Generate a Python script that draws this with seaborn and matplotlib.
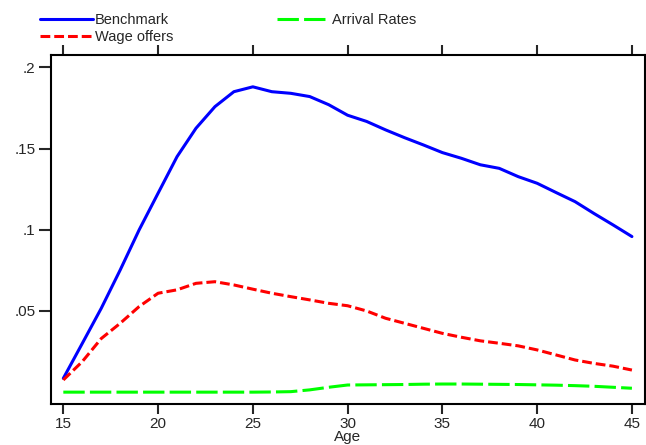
import numpy as np
import pandas as pd
import seaborn as sns
import matplotlib.pyplot as plt

age = list(range(15, 46))
benchmark = [0.0085, 0.030, 0.0516, 0.0752, 0.0999, 0.1225, 0.145, 0.1625, 0.1758, 0.185,
             0.188, 0.185, 0.184, 0.182, 0.177, 0.1705, 0.1667, 0.1615, 0.1567, 0.1522,
             0.1475, 0.144, 0.140, 0.1378, 0.1327, 0.1286, 0.1229, 0.1173, 0.110, 0.103, 0.0958]
wage_offers = [0.0075, 0.0188, 0.033, 0.0424, 0.0527, 0.0609, 0.063, 0.067, 0.068, 0.066,
               0.0634, 0.0609, 0.0588, 0.0568, 0.0547, 0.0532, 0.0500, 0.0455, 0.0424, 0.0393,
               0.0362, 0.0338, 0.0316, 0.0301, 0.0285, 0.026, 0.0229, 0.0198, 0.0177, 0.016, 0.0136]
arrival_rates = [0.0, 0.0, 0.0, 0.0, 0.0, 0.0, 0.0, 0.0, 0.0, 0.0,
                 0.0, 0.0001, 0.0003, 0.0014, 0.003, 0.0044, 0.0045, 0.0046, 0.0047, 0.0049,
                 0.005, 0.005, 0.0049, 0.0048, 0.0047, 0.0045, 0.0043, 0.0040, 0.0036, 0.003, 0.0024]

sns.set_style("ticks")
plt.rcParams['font.family'] = ['Liberation Sans', 'DejaVu Sans']

df = pd.DataFrame({'age': age, 'Benchmark': benchmark,
                   'Wage offers': wage_offers, 'Arrival Rates': arrival_rates})

fig = plt.figure(figsize=(6.46, 4.45), dpi=100)
ax = fig.add_axes([51 / 646, 1 - 404 / 445, 594 / 646, 349.5 / 445])

sns.lineplot(data=df, x='age', y='Benchmark', color='#0000ff', lw=2.2, ax=ax, label='Benchmark')
sns.lineplot(data=df, x='age', y='Wage offers', color='#ff0000', lw=2.2, ax=ax,
             label='Wage offers')
sns.lineplot(data=df, x='age', y='Arrival Rates', color='#00ff00', lw=2.2, ax=ax,
             label='Arrival Rates')
lines = ax.get_lines()
lines[1].set_dashes([3.2, 1.3])
lines[2].set_dashes([7.0, 1.7])

ax.set_xlim(14.35, 45.69)
ax.set_ylim(-0.0073, 0.2079)
ax.set_xticks([15, 20, 25, 30, 35, 40, 45])
ax.set_yticks([0.05, 0.1, 0.15, 0.2])
ax.set_yticklabels(['.05', '.1', '.15', '.2'])
ax.set_xlabel('Age', fontsize=11, labelpad=-0.5)
ax.set_ylabel('')
for s in ax.spines.values():
    s.set_visible(True)
    s.set_linewidth(1.5)
    s.set_color('black')
ax.tick_params(axis='x', which='both', top=True, bottom=True, direction='out',
               length=7, width=1.5, labelsize=11, pad=2)
ax.tick_params(axis='y', left=True, right=False, direction='out',
               length=9, width=1.5, labelsize=11, pad=2)

ax.get_legend().remove()
h, l = ax.get_legend_handles_labels()
fig.legend(h, l, ncol=2, frameon=False,
           loc='upper left', bbox_to_anchor=(30 / 646, 1 - 3 / 445), fontsize=10.5,
           handlelength=3.6, handletextpad=0.15, labelspacing=0.2, columnspacing=7.1,
           borderaxespad=0.3)

fig.savefig('out.png', dpi=100)
